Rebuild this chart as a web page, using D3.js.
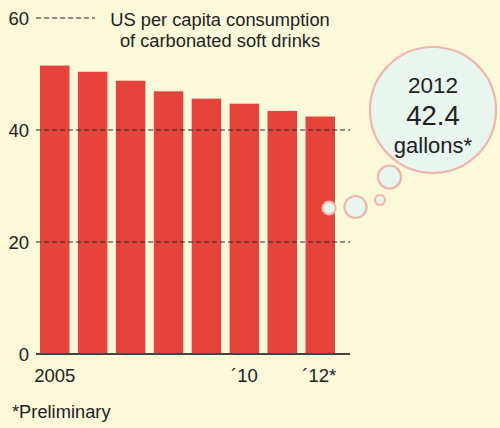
<!DOCTYPE html>
<html><head><meta charset="utf-8">
<script src="https://cdn.jsdelivr.net/npm/d3@7"></script>
<style>html,body{margin:0;padding:0;background:#fcf8da;}svg{display:block;}</style>
</head><body>
<script>
const years = [2005, 2006, 2007, 2008, 2009, 2010, 2011, 2012];
const values = [51.5, 50.4, 48.8, 46.9, 45.6, 44.7, 43.4, 42.4];
const xLabels = ["2005", "", "", "", "", "\u00b410", "", "\u00b412*"];
const yTicks = [0, 20, 40, 60];
const titleLines = ["US per capita consumption", "of carbonated soft drinks"];
const bubbleLines = ["2012", "42.4", "gallons*"];
const footnote = "*Preliminary";

const W = 500, H = 428;
const font = "'Liberation Sans', Arial, sans-serif";
const svg = d3.select("body").append("svg").attr("width", W).attr("height", H);
svg.append("rect").attr("width", W).attr("height", H).attr("fill", "#fcf8da");

const x = d3.scaleBand().domain(years).range([40, 335]).paddingInner(0.222).paddingOuter(0);
const y = d3.scaleLinear().domain([0, 60]).range([354, 18]);

// bars
svg.selectAll("rect.bar").data(years).enter().append("rect")
  .attr("class", "bar")
  .attr("x", d => x(d)).attr("width", x.bandwidth())
  .attr("y", (d, i) => y(values[i])).attr("height", (d, i) => y(0) - y(values[i]))
  .attr("fill", "#e5443a");

// gridlines
yTicks.filter(t => t > 0).forEach(t => {
  svg.append("line")
    .attr("x1", 36).attr("x2", t === 60 ? 95 : 350)
    .attr("y1", y(t)).attr("y2", y(t))
    .attr("stroke", "#222").attr("stroke-width", 1.2)
    .attr("stroke-dasharray", "5,3");
});
// baseline
svg.append("line").attr("x1", 36).attr("x2", 350).attr("y1", y(0)).attr("y2", y(0))
  .attr("stroke", "#444").attr("stroke-width", 2);

// y labels
svg.selectAll("text.ytick").data(yTicks).enter().append("text")
  .attr("class", "ytick")
  .attr("x", 29).attr("y", d => y(d)).attr("dy", "0.36em")
  .attr("text-anchor", "end").attr("font-family", font).attr("font-size", 18.5)
  .attr("fill", "#222").text(d => d);

// x labels
svg.selectAll("text.xtick").data(years).enter().append("text")
  .attr("class", "xtick")
  .attr("x", (d, i) => x(d) + x.bandwidth() / 2 + (i === 7 ? -1 : 0)).attr("y", 382)
  .attr("text-anchor", "middle").attr("font-family", font).attr("font-size", 18.5)
  .attr("fill", "#222").text((d, i) => xLabels[i]);

// title
svg.selectAll("text.title").data(titleLines).enter().append("text")
  .attr("class", "title")
  .attr("x", 220).attr("y", (d, i) => 26 + i * 21)
  .attr("text-anchor", "middle").attr("font-family", font).attr("font-size", 18.3)
  .attr("fill", "#222").text(d => d);

// footnote
svg.append("text").attr("x", 12).attr("y", 418)
  .attr("font-family", font).attr("font-size", 18.3).attr("fill", "#222").text(footnote);

// thought bubbles
const bubbles = [
  {cx: 329, cy: 208, r: 6.5},
  {cx: 355.5, cy: 207, r: 11},
  {cx: 380, cy: 200, r: 5},
  {cx: 389.5, cy: 177, r: 11.5},
  {cx: 433, cy: 110, r: 63}
];
svg.selectAll("circle.bub").data(bubbles).enter().append("circle")
  .attr("class", "bub")
  .attr("cx", d => d.cx).attr("cy", d => d.cy).attr("r", d => d.r)
  .attr("fill", "#e9f6f0").attr("stroke", "#f0b5ac").attr("stroke-width", 2.2);

const bSizes = [22.5, 27.5, 22];
const bY = [92.5, 125, 153];
svg.selectAll("text.bub").data(bubbleLines).enter().append("text")
  .attr("class", "bub")
  .attr("x", 433).attr("y", (d, i) => bY[i])
  .attr("text-anchor", "middle").attr("font-family", font)
  .attr("font-size", (d, i) => bSizes[i]).attr("fill", "#222").text(d => d);
</script>
</body></html>
